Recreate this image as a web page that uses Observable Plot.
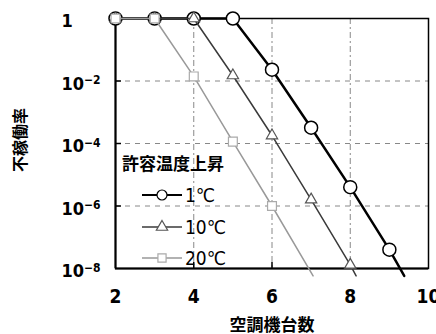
<!DOCTYPE html>
<html><head><meta charset="utf-8">
<script src="https://cdn.jsdelivr.net/npm/d3@7"></script>
<script src="https://cdn.jsdelivr.net/npm/@observablehq/plot@0.6"></script>
<style>
body{margin:0;background:#fff;}
</style>
</head><body><div id="chart"></div>
<script>
// Data
const units1 = [2,3,4,5,6,7,8,9];
const rate1 = [1,1,1,1,0.023,3.2e-4,4e-6,4e-8];
const units10 = [2,3,4,5,6,7,8];
const rate10 = [1,1,1,0.015,1.8e-4,1.6e-6,1.3e-8];
const units20 = [2,3,4,5,6];
const rate20 = [1,1,0.014,1.15e-4,1e-6];
// where each line runs out just below the axis
const tailUnits = [9.38, 8.15, 7.05];
const tailRate = [5.8e-9, 5.8e-9, 5.8e-9];
const seriesNames = ["1℃","10℃","20℃"];
const xTicks = [2,4,6,8,10];
const yTicks = [1,1e-2,1e-4,1e-6,1e-8];
const yTickLabels = ["1","10|-2","10|-4","10|-6","10|-8"];
const gridX = [4,6,8];
const gridY = [1e-2,1e-4,1e-6];

const mk = (xs, ys) => xs.map((x,i)=>({x, y: ys[i]}));
const d1 = mk(units1, rate1), d10 = mk(units10, rate10), d20 = mk(units20, rate20);
const l1 = [...d1, {x: tailUnits[0], y: tailRate[0]}];
const l10 = [...d10, {x: tailUnits[1], y: tailRate[1]}];
const l20 = [...d20, {x: tailUnits[2], y: tailRate[2]}];

const c1 = "#000", c10 = "#3a3a3a", c20 = "#999";
const numFont = '"Liberation Sans Narrow","Arial Narrow","DejaVu Sans Condensed","Liberation Sans","Noto Sans CJK JP",sans-serif';
const cjkFont = '"Noto Sans CJK JP",sans-serif';

const plot = Plot.plot({
  width: 436, height: 334,
  marginLeft: 115, marginRight: 8, marginTop: 18, marginBottom: 66,
  x: {domain: [2,10], axis: null},
  y: {type: "log", domain: [1e-8, 1], axis: null},
  style: {fontFamily: numFont, background: "#fff", overflow: "visible"},
  marks: [
    Plot.ruleY(gridY, {stroke: "#888", strokeDasharray: "5,5", strokeWidth: 1}),
    Plot.ruleX(gridX, {stroke: "#888", strokeDasharray: "6,3,2,3", strokeWidth: 1}),
    Plot.frame({stroke: "#000", strokeWidth: 1.5}),
    Plot.ruleX([2], {stroke: "#000", strokeWidth: 2}),
    Plot.ruleY([1e-8], {stroke: "#000", strokeWidth: 2}),
    Plot.tickY(gridY, {stroke: "#000", strokeWidth: 1.5, insetRight: 307}),
    Plot.tickX(gridX, {stroke: "#000", strokeWidth: 1.5, insetTop: 244}),
    Plot.line(l1, {x: "x", y: "y", stroke: c1, strokeWidth: 2.5}),
    Plot.dot(d1, {x: "x", y: "y", symbol: "circle", r: 6.5, fill: "#fff", stroke: c1, strokeWidth: 1.5}),
    Plot.line(l10, {x: "x", y: "y", stroke: c10, strokeWidth: 1.5}),
    Plot.dot(d10, {x: "x", y: "y", symbol: "triangle", r: 4.2, fill: "#fff", stroke: "#555", strokeWidth: 1.2}),
    Plot.line(l20, {x: "x", y: "y", stroke: c20, strokeWidth: 1.5}),
    Plot.dot(d20, {x: "x", y: "y", symbol: "square", r: 5, fill: "#fff", stroke: "#aaa", strokeWidth: 1.2}),
    Plot.text(yTicks, {y: d => d, text: (d,i) => yTickLabels[i], frameAnchor: "left", dx: -54, dy: 3,
      textAnchor: "start", lineAnchor: "middle", fontSize: 18, fontWeight: "bold", fill: "#000"}),
    Plot.text(xTicks, {x: d => d, text: d => String(d), frameAnchor: "bottom", dy: 28,
      lineAnchor: "middle", fontSize: 19, fontWeight: "bold", fill: "#000"})
  ]
});
document.getElementById("chart").append(plot);

const svg = d3.select(plot);
svg.selectAll("text").each(function(){
  const s = this.textContent;
  if (s.includes("|")) {
    const [base, exp] = s.split("|");
    const t = d3.select(this);
    t.selectAll("*").remove();
    t.text("");
    t.append("tspan").text(base);
    t.append("tspan").attr("dy", "-0.45em").attr("font-size", 12).text(exp.replace("-", "−"));
  }
});

// axis titles
svg.append("text").attr("transform", "translate(19,140) rotate(-90)")
  .attr("text-anchor", "middle").attr("dominant-baseline", "central")
  .attr("font-family", cjkFont).attr("font-weight", "bold").attr("font-size", 16).text("不稼働率");
svg.append("text").attr("x", 272).attr("y", 323)
  .attr("text-anchor", "middle").attr("dominant-baseline", "central")
  .attr("font-family", cjkFont).attr("font-weight", "bold").attr("font-size", 17).text("空調機台数");

// legend
const lg = svg.append("g").attr("text-anchor", "start");
lg.append("text").attr("x", 122).attr("y", 162).attr("dominant-baseline", "central")
  .attr("font-family", cjkFont).attr("font-weight", "bold").attr("font-size", 17).text("許容温度上昇");
const rows = [
  {y: 195, stroke: c1, w: 2, sym: d3.symbolCircle, size: Math.PI*5*5, ms: c1},
  {y: 227, stroke: c10, w: 1.5, sym: d3.symbolTriangle, size: Math.PI*4.2*4.2, ms: "#555"},
  {y: 258, stroke: c20, w: 1.5, sym: d3.symbolSquare, size: Math.PI*4.6*4.6, ms: "#aaa"}
];
rows.forEach((r, i) => {
  lg.append("line").attr("x1", 142).attr("x2", 182).attr("y1", r.y).attr("y2", r.y)
    .attr("stroke", r.stroke).attr("stroke-width", r.w);
  lg.append("path").attr("d", d3.symbol(r.sym, r.size)()).attr("transform", `translate(162,${r.y})`)
    .attr("fill", "#fff").attr("stroke", r.ms).attr("stroke-width", 1.2);
  lg.append("text").attr("x", 185).attr("y", r.y).attr("dominant-baseline", "central")
    .attr("font-family", numFont).attr("font-size", 19).text(seriesNames[i]);
});
</script>
</body></html>
